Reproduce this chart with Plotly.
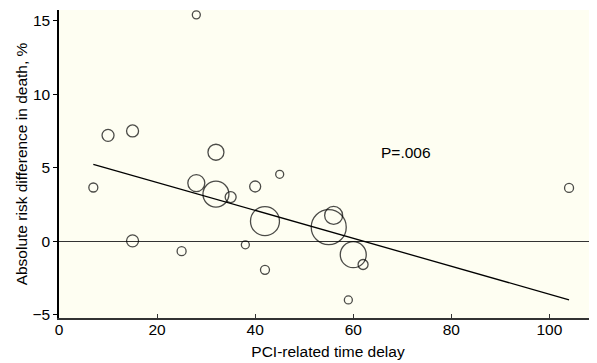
import plotly.graph_objects as go

# Data
delay = [28, 10, 15, 32, 45, 7, 28, 32, 35, 40, 42, 15, 25, 38, 42, 104, 56, 55, 60, 62, 59]
risk_diff = [15.4, 7.2, 7.5, 6.05, 4.55, 3.65, 3.95, 3.2, 3.0, 3.72, 1.36, 0.02, -0.68,
             -0.25, -1.95, 3.62, 1.75, 0.95, -0.92, -1.59, -4.0]
study_weight = [8, 12, 12, 16, 8, 9, 17, 26, 11, 11, 29, 12, 9, 8, 9, 9, 18, 35, 26, 10, 8]

fit_x = [7, 104]
fit_y = [5.23, -3.99]

x_ticks = [0, 20, 40, 60, 80, 100]
y_ticks = [-5, 0, 5, 10, 15]

FONT = "Liberation Sans, Arial, Helvetica, sans-serif"

fig = go.Figure()
fig.add_trace(go.Scatter(
    x=fit_x, y=fit_y, mode="lines",
    line=dict(color="black", width=1.3),
    hoverinfo="skip", showlegend=False,
))
fig.add_trace(go.Scatter(
    x=delay, y=risk_diff, mode="markers",
    marker=dict(size=study_weight, color="rgba(0,0,0,0)",
                line=dict(color="black", width=1.3)),
    showlegend=False,
))

fig.add_annotation(x=65.3, y=6.0, text="P=.006", showarrow=False,
                   xanchor="left", yanchor="middle",
                   font=dict(family=FONT, size=15.5, color="black"))

# page body has an 8px margin: compensate in the figure margins
fig.update_layout(
    width=597, height=363,
    margin=dict(l=51, r=8, t=2, b=53, autoexpand=False),
    paper_bgcolor="white",
    plot_bgcolor="#fefef2",
    font=dict(family=FONT, size=15.5, color="black"),
    xaxis=dict(
        range=[0, 109.7], tickvals=x_ticks, ticktext=[str(v) for v in x_ticks],
        showgrid=False, zeroline=False, automargin=True,
        showline=True, linecolor="#333", linewidth=1.5,
        ticks="inside", ticklen=4, tickcolor="#333", tickwidth=1,
        ticklabelstandoff=-3,
        title=dict(text="PCI-related time delay", font=dict(size=15.5), standoff=9),
        tickfont=dict(size=15.5),
    ),
    yaxis=dict(
        range=[-5.23, 15.73], tickvals=y_ticks,
        ticktext=["\u22125", "0", "5", "10", "15"],
        showgrid=False, automargin=True,
        zeroline=True, zerolinecolor="#333", zerolinewidth=1.3,
        showline=True, linecolor="black", linewidth=1.5,
        ticks="outside", ticklen=4, tickcolor="black", tickwidth=1,
        title=dict(text="Absolute risk difference in death, %", font=dict(size=15.5), standoff=1),
        tickfont=dict(size=15.5),
    ),
)

fig.write_html("out.html")
